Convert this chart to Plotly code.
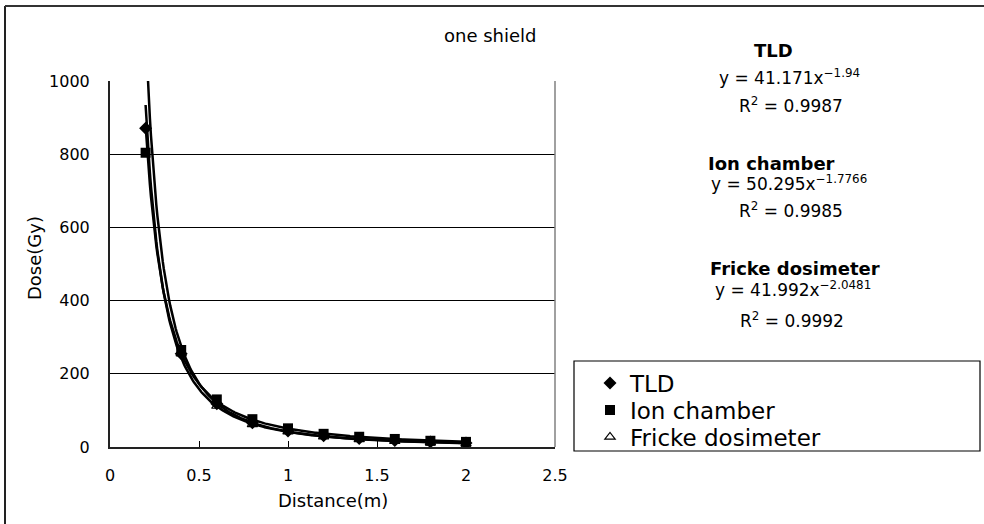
import numpy as np
import plotly.graph_objects as go

# ---- data ----
distance = [0.2, 0.4, 0.6, 0.8, 1.0, 1.2, 1.4, 1.6, 1.8, 2.0]
tld = [871, 255, 118, 66, 44, 31, 23, 18, 14, 11]
ion_chamber = [804, 265, 130, 76, 51, 36, 28, 22, 17, 14]
fricke = [1120, 255, 112, 62, 42, 28, 21, 16, 12, 9]

series_names = ["TLD", "Ion chamber", "Fricke dosimeter"]
fit_coef = [41.171, 50.295, 41.992]
fit_exp = [-1.94, -1.7766, -2.0481]
fit_r2 = ["0.9987", "0.9985", "0.9992"]
exp_text = ["−1.94", "−1.7766", "−2.0481"]

x_ticks = [0, 0.5, 1, 1.5, 2, 2.5]
y_ticks = [0, 200, 400, 600, 800, 1000]

# ---- layout geometry (pixels) ----
W, H = 984, 524
L, R, T, B = 110, 555, 81, 447


def px(xp):
    return (xp - L) / (R - L)


def py(yp):
    return (B - yp) / (B - T)


fig = go.Figure()

# trendlines from the fit equations shown on the chart
xs = np.linspace(distance[0], distance[-1], 300)
for name, a, b in zip(series_names, fit_coef, fit_exp):
    fig.add_trace(go.Scatter(x=xs, y=a * xs ** b, mode="lines",
                             line=dict(color="black", width=2.5),
                             showlegend=False, hoverinfo="skip"))

fig.add_trace(go.Scatter(x=distance, y=tld, mode="markers", name="TLD", legend="legend",
                         marker=dict(symbol="diamond", size=10, color="black")))
fig.add_trace(go.Scatter(x=distance, y=ion_chamber, mode="markers", name="Ion chamber",
                         legend="legend2",
                         marker=dict(symbol="square", size=10, color="black")))
fig.add_trace(go.Scatter(x=distance, y=fricke, mode="markers", name="Fricke dosimeter",
                         legend="legend3",
                         marker=dict(symbol="triangle-up-open", size=9, color="black",
                                     line=dict(width=1.2))))

FONT = "DejaVu Sans, sans-serif"
tickfont = dict(family=FONT, size=16, color="black")

fig.update_xaxes(range=[0, 2.5], tickvals=x_ticks, ticktext=[str(v) for v in x_ticks],
                 showgrid=False, zeroline=False, showline=True, linecolor="#222",
                 linewidth=2, ticks="inside", ticklen=6, tickcolor="black",
                 tickfont=tickfont, ticklabelstandoff=13)
fig.update_yaxes(range=[0, 1000], tickvals=y_ticks, showgrid=True, gridcolor="black",
                 gridwidth=1, zeroline=False, showline=True, linecolor="#222",
                 linewidth=2, ticks="inside", ticklen=5, tickcolor="black",
                 tickfont=tickfont, ticklabelstandoff=15)

annotations = []
heading_font = dict(family=FONT, size=18, color="black")
eq_font = dict(family=FONT, size=17, color="black")


def note(text, xp, yp, font, angle=0):
    annotations.append(dict(text=text, x=px(xp), y=py(yp), xref="paper", yref="paper",
                            xanchor="center", yanchor="middle", showarrow=False,
                            textangle=angle, font=font))


note("one shield", 490, 35, dict(family=FONT, size=18, color="black"))
note("Distance(m)", 333, 500, dict(family=FONT, size=18, color="black"))
note("Dose(Gy)", 34, 258, dict(family=FONT, size=18, color="black"), angle=-90)

heading_pos = [(773, 50), (771, 163), (795, 268)]
eq_pos = [(789, 77), (789, 183), (793, 289)]
r2_pos = [(791, 105), (791, 210), (792, 320)]
for i in range(3):
    note("<b>%s</b>" % series_names[i], heading_pos[i][0], heading_pos[i][1], heading_font)
    note("y = %gx<sup>%s</sup>" % (fit_coef[i], exp_text[i]), eq_pos[i][0], eq_pos[i][1],
         eq_font)
    note("R<sup>2</sup> = %s" % fit_r2[i], r2_pos[i][0], r2_pos[i][1], eq_font)

shapes = [
    # gray right border of plot area
    dict(type="line", xref="paper", yref="paper", x0=1, x1=1, y0=0, y1=1,
         line=dict(color="#808080", width=1.5)),
    # legend box
    dict(type="rect", xref="paper", yref="paper", x0=px(574), x1=px(980), y0=py(361),
         y1=py(451), line=dict(color="black", width=1.2)),
    # outer chart border (left and top)
    dict(type="line", xref="paper", yref="paper", x0=px(5), x1=px(5), y0=py(530), y1=py(6),
         line=dict(color="#222", width=2)),
    dict(type="line", xref="paper", yref="paper", x0=px(5), x1=px(990), y0=py(6), y1=py(6),
         line=dict(color="#333", width=2)),
]

legend_font = dict(family=FONT, size=23, color="black")
row_y = [383, 410, 437]


def legend_at(yp):
    return dict(x=px(590), y=py(yp), xanchor="left", yanchor="middle",
                bgcolor="rgba(0,0,0,0)", borderwidth=0, font=legend_font,
                itemwidth=30)


fig.update_layout(
    width=W, height=H,
    margin=dict(l=L, r=W - R, t=T, b=H - B),
    paper_bgcolor="white", plot_bgcolor="white",
    showlegend=True,
    legend=legend_at(row_y[0]),
    legend2=legend_at(row_y[1]),
    legend3=legend_at(row_y[2]),
    annotations=annotations,
    shapes=shapes,
)

fig.write_html("out.html")
